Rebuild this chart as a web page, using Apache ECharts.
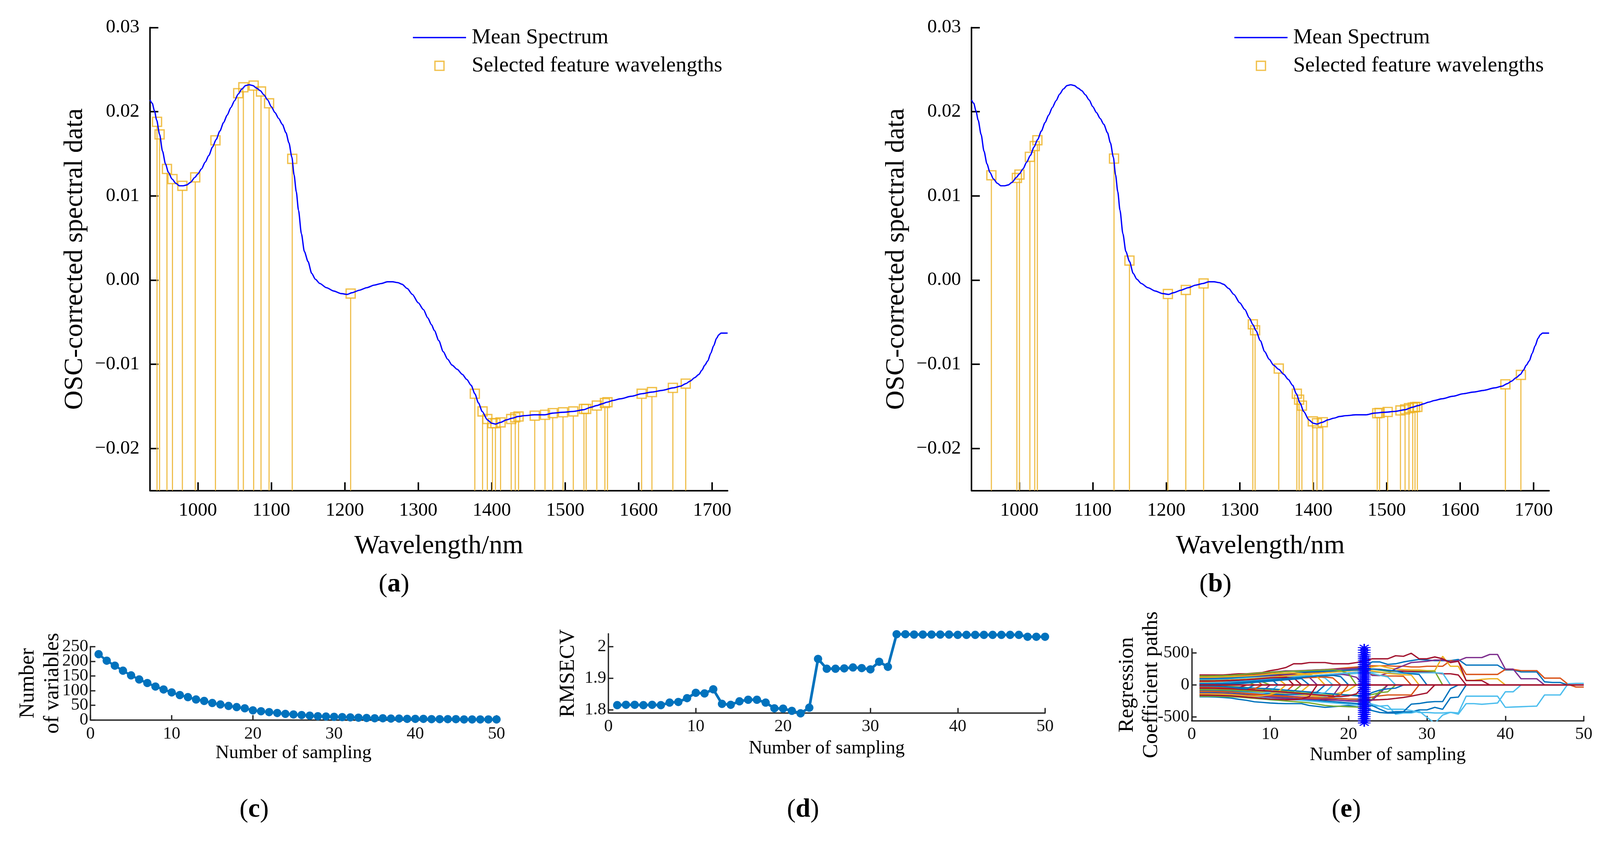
<!DOCTYPE html>
<html><head><meta charset="utf-8">
<script src="https://cdn.jsdelivr.net/npm/echarts@6.0.0/dist/echarts.min.js"></script>
<style>html,body{margin:0;padding:0;background:#fff;overflow:hidden}#c{width:100vw;height:100vh}</style>
</head><body><div id="c"></div><script>
// ---------- data: mean spectrum (panels a, b) ----------
const wavelengths = [935,938,941,944,948,952,956,960,965,970,975,980,985,990,996,1000,1005,1010,1015,1020,1025,1030,1035,1040,1045,1050,1055,1060,1065,1070,1075,1080,1085,1090,1095,1100,1105,1110,1115,1120,1124,1128,1131,1134,1137,1141,1145,1150,1155,1160,1166,1175,1185,1195,1203,1210,1220,1230,1240,1250,1258,1265,1272,1278,1285,1292,1300,1307,1313,1318,1322,1328,1334,1340,1346,1353,1360,1366,1372,1377,1382,1387,1394,1400,1405,1412,1420,1428,1436,1445,1458,1472,1483,1497,1511,1525,1535,1543,1550,1557,1565,1575,1590,1604,1618,1632,1647,1657,1664,1670,1676,1682,1686,1690,1694,1698,1702,1706,1709,1712,1721];
const meanSpectrum = [0.0214,0.0210,0.0201,0.0190,0.0173,0.0153,0.0138,0.0128,0.0120,0.0115,0.0112,0.0112,0.0113,0.0116,0.0122,0.0126,0.0132,0.0140,0.0148,0.0158,0.0167,0.0177,0.0187,0.0196,0.0205,0.0213,0.0221,0.0227,0.0231,0.0232,0.0231,0.0228,0.0225,0.0220,0.0214,0.0206,0.0199,0.0192,0.0185,0.0175,0.0163,0.0146,0.0125,0.0105,0.0083,0.0055,0.0034,0.0022,0.0008,0.0001,-0.0004,-0.0009,-0.0013,-0.0016,-0.0017,-0.0015,-0.0012,-0.0009,-0.0006,-0.0004,-0.0002,-0.0002,-0.0003,-0.0005,-0.0010,-0.0017,-0.0027,-0.0035,-0.0045,-0.0053,-0.0060,-0.0072,-0.0085,-0.0094,-0.0101,-0.0106,-0.0112,-0.0118,-0.0125,-0.0135,-0.0146,-0.0156,-0.0166,-0.0170,-0.0171,-0.0169,-0.0166,-0.0164,-0.0162,-0.0161,-0.0160,-0.0160,-0.0158,-0.0157,-0.0156,-0.0154,-0.0151,-0.0149,-0.0147,-0.0145,-0.0143,-0.0141,-0.0138,-0.0135,-0.0133,-0.0131,-0.0128,-0.0126,-0.0123,-0.0120,-0.0116,-0.0112,-0.0107,-0.0101,-0.0096,-0.0087,-0.0078,-0.0069,-0.0065,-0.0063,-0.0063];
const featAWavelengths = [944.5,948,958,965.5,979,996.5,1024,1055,1062,1076,1086,1097,1128.5,1208,1377,1387.5,1394,1401,1405,1412,1426.5,1432,1436.5,1458.5,1472.5,1483,1497,1511,1525.5,1528.5,1543,1554,1557.5,1604,1618,1646.5,1664];
const featAValues = [0.0188,0.0173,0.0132,0.0120,0.0112,0.0122,0.0166,0.0222,0.0229,0.0231,0.0224,0.0210,0.0144,-0.0016,-0.0135,-0.0156,-0.0165,-0.0170,-0.0170,-0.0169,-0.0165,-0.0163,-0.0162,-0.0161,-0.0160,-0.0158,-0.0157,-0.0156,-0.0153,-0.0153,-0.0149,-0.0146,-0.0145,-0.0135,-0.0133,-0.0128,-0.0123];
const featBWavelengths = [962,996.7,1000.2,1014.4,1021,1024.6,1128.9,1149.9,1202.2,1226.6,1250.8,1317.8,1320.9,1353.1,1377.7,1380.8,1384.6,1399.4,1405.1,1413,1487.1,1490.3,1501.3,1518.7,1525,1530.3,1535.4,1538.5,1541.7,1661.5,1682.6];
const featBValues = [0.01245,0.01213,0.01253,0.01464,0.01592,0.01661,0.01443,0.00232,-0.00165,-0.00117,-0.0004,-0.00525,-0.00596,-0.01051,-0.0135,-0.0142,-0.01491,-0.01678,-0.017,-0.01688,-0.01581,-0.01578,-0.01566,-0.01548,-0.01536,-0.01521,-0.01514,-0.01509,-0.01506,-0.01238,-0.01126];
const specXTicks = [1000,1100,1200,1300,1400,1500,1600,1700];
const specYTicks = [-0.02,-0.01,0,0.01,0.02,0.03];

// ---------- data: CARS (panels c, d, e) ----------
const numVariables = [224,202,185,168,152,138,126,114,104,94,85,78,70,65,58,53,48,44,40,33,30,27,24,21,19,17,15,13,12,11,10,9,8,7,6,6,5,5,4,4,4,3,3,3,3,2,2,2,2,2];
const numVarTicksEven = [0,100,200];
const numVarTicksOdd = [50,150,250];
const numVarTicks = [0,50,100,150,200,250];
const rmsecv = [1.815,1.816,1.816,1.815,1.816,1.815,1.823,1.825,1.837,1.854,1.852,1.865,1.819,1.816,1.827,1.832,1.832,1.823,1.805,1.804,1.797,1.789,1.807,1.961,1.930,1.930,1.931,1.934,1.932,1.928,1.952,1.936,2.039,2.039,2.038,2.038,2.038,2.038,2.038,2.037,2.037,2.037,2.037,2.037,2.037,2.037,2.037,2.031,2.031,2.031];
const rmseTicks = [1.8,1.9,2];
const coefTicks = [-500,0,500];
const coefBlue = [
 [60,60,62,65,70,80,95,110,125,140,155,170,185,200,210,220,230,240,250,260,265,272,360,360,321,331,360,380,399,389,380,380,380,399,311,311,311,311,311,234,234,204,204,204,49,39,39,0],
 [-185,-185,-188,-195,-205,-224,-240,-263,-272,-282,-288,-292,-292,-292,-321,-335,-350,-340,-331,-321,-340,-350,-400,-430,-440,-440,-420,-420,-390,-390,-350,-380,-200,-190,0],
 [-120,-120,-122,-125,-130,-140,-150,-160,-170,-180,-190,-200,-210,-220,-230,-240,-250,-260,-270,-280,-290,-300,-320,-380,-430,-418,-418,-300,-290,-270,-260,-260,-60,0],
 [40,40,42,45,50,60,70,80,95,105,0],
 [-80,-80,-82,-85,-90,-100,-110,-120,-130,-140,-145,-150,-150,-145,-130,-110,0],
 [100,100,102,105,110,120,130,140,150,160,170,180,190,200,205,210,215,220,225,230,235,240,250,240,230,220,190,175,165,0],
 [-30,-30,-31,-33,-36,-40,-45,-50,-55,-60,-70,-80,-90,-100,-110,-120,-130,-140,-150,-160,-170,-180,-120,-80,-60,-49,0],
 [20,20,22,25,30,40,50,60,70,80,90,100,110,120,130,140,145,150,130,0],
 [-15,-15,-18,-25,-35,-50,-60,0],
 [0,0,3,8,14,20,30,40,50,60,70,80,90,100,0]
];
const coefOrange = [
 [130,130,130,135,140,150,160,170,180,190,200,210,215,220,230,235,240,250,260,270,280,290,300,300,300,292,292,282,282,292,292,292,380,370,165,165,165,165,165,243,243,224,224,224,107,107,107,10,-33,-33],
 [90,90,92,95,100,105,110,95,0],
 [-60,-60,-62,-66,-72,-80,-90,-100,-110,-115,-112,-105,0],
 [-140,-140,-140,-142,-146,-150,-155,-160,-165,-170,-175,-180,-185,-190,-195,-200,-205,-210,-215,-220,-220,-215,-190,-170,-156,-156,-156,-156,0],
 [20,20,24,30,40,50,60,70,80,90,100,110,120,130,140,150,160,170,180,190,200,210,170,150,140,140,136,0],
 [10,10,12,15,20,30,40,50,60,70,80,90,100,110,115,120,125,110,0],
 [-100,-100,-102,-105,-110,-120,-130,-140,-150,-160,-170,-180,-190,-200,-205,-210,-200,-190,-150,0],
 [-30,-30,-33,-38,-45,-55,-65,-60,0]
];
const coefYellow = [
 [70,70,74,80,90,100,110,120,130,140,150,160,170,180,190,200,210,220,230,240,245,250,280,300,270,250,240,234,234,224,224,448,292,292,72,72,88,97,97,0],
 [-20,-20,-24,-30,-40,-50,-60,-70,-80,-90,-100,-110,-120,-100,0],
 [30,30,33,36,42,50,60,70,80,90,100,0],
 [-50,-50,-54,-60,-70,-80,-90,-100,-110,-120,-130,-140,-150,-160,-170,-175,-170,-150,-120,-80,0],
 [50,50,54,60,70,80,90,100,110,120,130,140,150,160,170,180,190,200,210,220,230,240,220,200,180,170,160,156,0],
 [120,120,122,126,130,136,142,150,160,170,180,185,190,180,160,130,0],
 [-140,-140,-142,-145,-150,-160,-170,-175,-170,-150,-110,0]
];
const coefPurple = [
 [150,150,150,152,155,160,170,180,190,200,210,220,220,225,230,235,240,245,250,250,255,260,150,146,185,253,302,350,360,370,389,389,360,380,428,428,428,477,477,247,247,97,97,97,0],
 [-40,-40,-44,-50,-60,-70,-80,-90,-100,0],
 [110,110,112,115,120,125,130,135,140,145,150,155,160,150,120,0],
 [-90,-90,-92,-96,-100,-110,-120,-130,-140,-150,-160,-170,-180,-190,-200,-210,-220,-230,-240,-250,-255,-260,-240,-130,0],
 [-130,-130,-132,-135,-140,-150,-160,-170,-180,-190,-200,-210,-215,-220,-225,-225,-210,-170,0],
 [20,20,24,30,36,44,52,60,70,80,90,100,110,120,130,140,150,160,170,150,120,0]
];
const coefGreen = [
 [80,80,84,90,100,110,120,130,140,150,160,170,180,190,200,205,210,215,220,225,230,235,250,230,214,214,214,214,214,214,214,0],
 [-175,-175,-176,-180,-185,-190,-200,-210,-220,-230,-240,-250,-260,-270,-280,-300,-320,-330,-335,-340,-345,-350,-220,-100,0],
 [50,50,54,60,66,72,62,0],
 [-10,-10,-12,-16,-22,-30,-40,-50,-60,-70,-80,-90,-100,0],
 [-70,-70,-72,-75,-80,-85,-90,-95,-100,-105,-110,-115,-120,-125,-130,-135,-140,-145,-150,-155,-160,-165,-150,-120,-107,0],
 [140,140,142,145,150,160,170,180,190,200,205,210,215,220,225,230,235,240,220,180,0],
 [-5,-5,0,5,15,25,35,45,50,0]
];
const coefLightBlue = [
 [-150,-150,-150,-155,-160,-165,-170,-180,-190,-200,-210,-220,-230,-240,-250,-260,-270,-280,-290,-300,-310,-320,-330,-330,-321,-457,-438,-438,-409,-506,-600,-470,-428,-457,-292,-292,-302,-292,-282,-107,-107,0],
 [-60,-60,-62,-65,-70,-80,-90,-100,-110,-120,-130,-140,-150,-160,-170,-180,-190,-200,-210,-220,-230,-240,-300,-330,-380,-380,-380,-400,-430,-430,-438,-438,-428,-438,-175,-175,-175,-175,-175,-350,-345,-340,-335,-331,-156,-156,-156,19,25,25],
 [0,0,5,10,20,30,40,50,60,70,80,90,100,110,120,130,140,150,160,170,180,190,200,195,190,185,185,190,190,190,190,185,0],
 [90,90,92,95,100,105,110,115,120,125,130,135,140,145,150,140,110,0],
 [-100,-100,-102,-106,-110,-115,-120,-125,-130,-110,0],
 [30,30,33,37,42,50,60,70,80,90,100,110,120,130,140,150,160,170,180,190,200,210,180,150,126,0],
 [-40,-40,-44,-50,-56,-62,-70,-80,-90,-100,-110,-120,-130,-140,-145,-140,-120,0]
];
const coefDarkRed = [
 [156,156,156,156,165,175,175,185,195,224,243,272,331,331,350,350,350,331,331,331,350,370,409,409,409,457,448,496,409,409,438,409,350,370,68,68,68,0],
 [90,90,92,95,100,110,120,130,140,150,160,170,180,190,200,205,210,215,220,225,230,240,250,245,230,220,215,210,205,200,190,175,175,156,0],
 [-100,-100,-102,-105,-110,-120,-130,-140,-150,-160,-170,-180,-190,-200,-210,-220,-230,-235,-240,-245,-250,-240,-235,-230,-224,-210,-195,-175,-150,-126,0],
 [120,120,124,130,135,140,150,160,165,170,160,130,0],
 [-10,-10,-15,-25,-35,-40,0],
 [60,60,62,66,70,76,82,90,100,110,115,118,110,0],
 [-160,-160,-162,-166,-170,-180,-190,-200,-210,-220,-225,-230,-230,-220,-180,0],
 [-50,-50,-52,-56,-60,-66,-72,-80,-88,-96,-105,-115,-125,-135,-145,-155,-165,-175,-180,-170,-140,0]
];
const zeroPath = [[1,0],[50,0]];
const optimalSampling = 22;
const starValues = [584,545,505,470,440,410,380,350,320,290,260,230,200,170,140,110,80,50,20,-10,-40,-70,-100,-130,-160,-190,-220,-250,-280,-310,-340,-370,-400,-430,-460,-495,-530,-560,-594];

// ---------- layout scale (design size 4244 x 2208) ----------
const dom = document.getElementById('c');
const VW = dom.clientWidth || window.innerWidth, VH = dom.clientHeight || window.innerHeight;
const K = Math.min(VW/4244, VH/2208);
const S = v => v*K;

const FONT = "'Liberation Serif','Times New Roman',serif";
const MAT = '#262626';
const SQ = S(24);

function specX(gi){
  return {type:'value', gridIndex:gi, min:935, max:1721, name:'Wavelength/nm', nameLocation:'middle', nameGap:S(112), nameMoveOverlap:false,
    nameTextStyle:{fontFamily:FONT,fontSize:S(71),color:'#000',lineHeight:S(71)},
    axisLine:{onZero:false,lineStyle:{color:'#000',width:S(4)}},
    axisTick:{inside:true,length:S(22),lineStyle:{color:'#000',width:S(4)},customValues:specXTicks},
    axisLabel:{margin:S(28),fontFamily:FONT,fontSize:S(51),color:'#000',customValues:specXTicks,formatter:v=>String(v)},
    splitLine:{show:false}};
}
function specY(gi){
  return {type:'value', gridIndex:gi, min:-0.025, max:0.03, name:'OSC-corrected spectral data', nameLocation:'middle', nameRotate:90, nameGap:S(164), nameMoveOverlap:false,
    nameTextStyle:{fontFamily:FONT,fontSize:S(71),color:'#000',lineHeight:S(71)},
    axisLine:{onZero:false,lineStyle:{color:'#000',width:S(4)}},
    axisTick:{inside:true,length:S(22),lineStyle:{color:'#000',width:S(4)},customValues:specYTicks},
    axisLabel:{margin:S(28),fontFamily:FONT,fontSize:S(51),color:'#000',customValues:specYTicks,formatter:v=>v.toFixed(2).replace('-','\u2212')},
    splitLine:{show:false}};
}
function matX(gi,gap){
  return {type:'value', gridIndex:gi, min:0, max:50, interval:10, name:'Number of sampling', nameLocation:'middle', nameGap:S(gap), nameMoveOverlap:false,
    nameTextStyle:{fontFamily:FONT,fontSize:S(50),color:'#000',lineHeight:S(50)},
    axisLine:{onZero:false,lineStyle:{color:MAT,width:S(3.5)}},
    axisTick:{inside:true,length:S(13),lineStyle:{color:MAT,width:S(3.5)}},
    axisLabel:{margin:S(14),fontFamily:FONT,fontSize:S(46),color:'#111',formatter:v=>String(v),showMinLabel:true,showMaxLabel:true},
    splitLine:{show:false}};
}
function matY(gi,name,gap,extra,ticks,labelTicks){
  const ax = {type:'value', gridIndex:gi, name:name, nameLocation:'middle', nameRotate:90, nameGap:S(gap), nameMoveOverlap:false,
    nameTextStyle:{fontFamily:FONT,fontSize:S(57),color:'#000',lineHeight:S(65)},
    axisLine:{onZero:false,lineStyle:{color:MAT,width:S(3.5)}},
    axisTick:{inside:true,length:S(13),lineStyle:{color:MAT,width:S(3.5)}},
    axisLabel:{margin:S(6),fontFamily:FONT,fontSize:S(46),color:'#111',formatter:v=>String(v),showMinLabel:true,showMaxLabel:true,hideOverlap:false},
    splitLine:{show:false}};
  Object.assign(ax, extra);
  if (ticks){ ax.axisTick.customValues = ticks; ax.axisLabel.customValues = labelTicks || ticks; }
  return ax;
}
// label-only companion axis (so crowded tick labels are all drawn)
function labelOnlyY(gi, extra, labelTicks){
  return {type:'value', gridIndex:gi, position:'left', offset:0, show:true, ...extra,
    axisLine:{show:false}, axisTick:{show:false}, splitLine:{show:false},
    axisLabel:{margin:S(6),fontFamily:FONT,fontSize:S(46),color:'#111',formatter:v=>String(v),customValues:labelTicks,showMinLabel:true,showMaxLabel:true,hideOverlap:false}};
}

function stemSeries(ax, wl, vals){
  return {type:'custom', xAxisIndex:ax, yAxisIndex:ax, silent:true,
    data: wl.map((w,i)=>[w, vals[i]]),
    encode:{x:0,y:1},
    renderItem:(params, api)=>{
      const top = api.coord([api.value(0), api.value(1)]);
      const bot = api.coord([api.value(0), -0.025]);
      return {type:'line', shape:{x1:top[0], y1:top[1]+SQ/2, x2:bot[0], y2:bot[1]},
        style:{stroke:'#EFBE4A', lineWidth:S(3)}};
    }};
}
function spectrumSeries(ax){
  return {type:'line', name:'Mean Spectrum', xAxisIndex:ax, yAxisIndex:ax, silent:true,
    data: wavelengths.map((w,i)=>[w, meanSpectrum[i]]), symbol:'none', showSymbol:false,
    smooth:0.25, smoothMonotone:'x', lineStyle:{color:'#0000FF', width:S(3.5)}, itemStyle:{color:'#0000FF'}};
}
function squareSeries(ax, wl, vals){
  return {type:'scatter', name:'Selected feature wavelengths', xAxisIndex:ax, yAxisIndex:ax, silent:true,
    data: wl.map((w,i)=>[w, vals[i]]), symbol:'rect', symbolSize:SQ,
    itemStyle:{color:'rgba(255,255,255,0)', borderColor:'#EDB120', borderWidth:S(3.5)}};
}

const series = [
  stemSeries(0, featAWavelengths, featAValues), spectrumSeries(0), squareSeries(0, featAWavelengths, featAValues),
  stemSeries(1, featBWavelengths, featBValues), spectrumSeries(1), squareSeries(1, featBWavelengths, featBValues),
  {type:'line', xAxisIndex:2, yAxisIndex:2, silent:true, data:numVariables.map((v,i)=>[i+1,v]), symbol:'circle', symbolSize:S(22),
    itemStyle:{color:'#0072BD'}, lineStyle:{color:'#0072BD', width:S(6)}, clip:false},
  {type:'line', xAxisIndex:3, yAxisIndex:3, silent:true, data:rmsecv.map((v,i)=>[i+1,v]), symbol:'circle', symbolSize:S(22),
    itemStyle:{color:'#0072BD'}, lineStyle:{color:'#0072BD', width:S(7)}, clip:false}
];
const coefGroups = [[coefBlue,'#0072BD'],[coefOrange,'#D95319'],[coefYellow,'#EDB120'],[coefPurple,'#7E2F8E'],[coefGreen,'#77AC30'],[coefLightBlue,'#4DBEEE'],[coefDarkRed,'#A2142F']];
const maxPaths = Math.max(...coefGroups.map(g=>g[0].length));
for (let k=0;k<maxPaths;k++){
  coefGroups.forEach(([paths,color])=>{
    if (paths[k]) series.push({type:'line', xAxisIndex:4, yAxisIndex:4, silent:true,
      data: paths[k].map((v,i)=>[i+1,v]), symbol:'none', lineStyle:{color:color, width:S(3.5)}});
  });
}
series.push({type:'line', xAxisIndex:4, yAxisIndex:4, silent:true, data:zeroPath, symbol:'none', lineStyle:{color:'#A2142F', width:S(4)}});
series.push({type:'line', xAxisIndex:4, yAxisIndex:4, silent:true, clip:false, z:5,
  data: starValues.map(v=>[optimalSampling, v]),
  symbol:'path://M10 0 L10 20 M0 10 L20 10 M3 3 L17 17 M3 17 L17 3', symbolSize:[S(34),S(20)],
  itemStyle:{color:'none', borderColor:'#0000FF', borderWidth:S(3)}, lineStyle:{color:'#0000FF', width:S(3.5)}});

function legendAt(left){
  return {left:S(left), top:S(66), orient:'vertical', itemWidth:S(141), itemHeight:S(24), itemGap:S(18), selectedMode:false,
    symbolKeepAspect:true,
    textStyle:{fontFamily:FONT, fontSize:S(57), color:'#000', lineHeight:S(57), padding:[0,0,0,S(10)]},
    data:[
      {name:'Mean Spectrum', icon:'path://M0 0 L40 0 L40 1 L0 1 Z', itemStyle:{color:'#0000FF', borderWidth:0}},
      {name:'Selected feature wavelengths', icon:'path://M0 0 L10 0 L10 10 L0 10 Z',
        itemStyle:{borderWidth:S(3.5), borderColor:'#EDB120', color:'rgba(255,255,255,0)'}}
    ]};
}
function panelLabel(x,y,letter){
  return {type:'text', x:S(x), y:S(y), silent:true, style:{text:'{p|(}{b|'+letter+'}{p|)}', align:'center', verticalAlign:'middle',
    rich:{p:{fontFamily:FONT,fontSize:S(70),fill:'#000'}, b:{fontFamily:FONT,fontSize:S(70),fontWeight:'bold',fill:'#000'}}}};
}
function G(l,t,w,h){ return {left:S(l), top:S(t), width:S(w), height:S(h)}; }

const option = {
  animation:false,
  backgroundColor:'#fff',
  grid:[G(398,73,1532,1229), G(2577,73,1532,1229), G(240,1716,1077,195), G(1614,1682,1158,210), G(3161,1722,1040,191)],
  xAxis:[specX(0), specX(1), matX(2,63), matX(3,70), matX(4,66)],
  yAxis:[specY(0), specY(1),
    matY(2,'Number\nof variables',68,{min:0,max:250},numVarTicks,numVarTicksEven),
    matY(3,'RMSECV',74,{min:1.7905,max:2.0405},rmseTicks),
    matY(4,'Regression\nCoefficient paths',74,{min:-560,max:565},coefTicks),
    labelOnlyY(2,{min:0,max:250},numVarTicksOdd)],
  legend:[legendAt(1090), legendAt(3269)],
  graphic:[panelLabel(1045,1552,'a'), panelLabel(3224,1552,'b'), panelLabel(674,2150,'c'), panelLabel(2130,2150,'d'), panelLabel(3571,2150,'e')],
  series: series
};
const chart = echarts.init(dom, null, {renderer:'canvas'});
chart.setOption(option);
window.addEventListener('resize', ()=>chart.resize());
</script></body></html>
